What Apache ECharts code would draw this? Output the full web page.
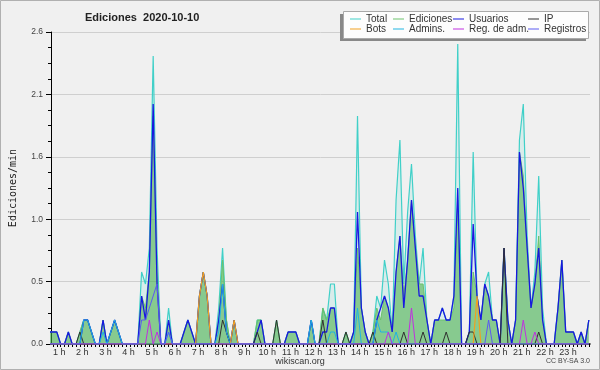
<!DOCTYPE html>
<html><head><meta charset="utf-8">
<script src="https://cdn.jsdelivr.net/npm/echarts@6/dist/echarts.min.js"></script>
<style>html,body{margin:0;padding:0;background:#f0f0f0}#c{width:600px;height:370px}</style>
</head><body><div id="c"></div><script>
// 10-minute slots; first plotted slot index (slot 3 = 00:30)
const firstSlot = 3;
const hours = [1,2,3,4,5,6,7,8,9,10,11,12,13,14,15,16,17,18,19,20,21,22,23];
const hourLabels = hours.map(h => h + ' h');
const yTickValues = [0, 0.52, 1.04, 1.56, 2.08, 2.6];
const yTickLabels = ['0.0','0.5','1.0','1.6','2.1','2.6'];
const names = ['Total','Ediciones','Usuarios','IP','Bots','Admins.','Reg. de adm.','Registros'];

// values per 10-min slot, slots 3..143 (grouped by hour)
const total = [
 .1,.1,.1,
 0,0,.1,0,0,.1,
 .2,.2,.1,0,0,.2,
 0,.1,.2,.1,0,0,
 0,0,0,.6,.5,.8,
 2.4,.8,0,0,.3,0,
 0,0,.1,.2,.1,0,
 .4,.6,.4,0,0,.3,
 .8,.2,0,.2,0,0,
 0,0,0,.2,.2,0,
 0,0,.2,0,0,.1,
 .1,.1,0,0,0,.2,
 0,0,.3,.2,.5,.5,
 0,0,.1,0,.1,1.9,
 .3,.1,0,.1,.4,.3,
 .7,.5,.1,1.2,1.7,.5,
 1.1,1.5,.9,.5,.8,.2,
 0,.2,.2,.3,.2,.2,
 .4,2.5,0,0,.1,1.6,
 .4,.2,.5,.6,.2,.2,
 0,.8,.2,0,.2,1.7,
 2.0,.9,.3,.6,1.4,.3,
 0,0,0,.3,.7,.1,
 .1,.1,0,.1,0,.2];
const ediciones = [
 .1,.1,.1,
 0,0,.1,0,0,.1,
 .2,.2,.1,0,0,.2,
 0,.1,.2,.1,0,0,
 0,0,0,.4,.3,.6,
 1.9,.6,0,0,.2,0,
 0,0,.1,.2,.1,0,
 .4,.6,.4,0,0,.2,
 .7,.2,0,.2,0,0,
 0,0,0,.2,.2,0,
 0,0,.2,0,0,.1,
 .1,.1,0,0,0,.2,
 0,0,.3,.2,.3,.3,
 0,0,.1,0,.1,.8,
 .3,.1,0,.1,.3,.2,
 .4,.3,.1,.6,.9,.4,
 .7,1.2,.8,.5,.5,.2,
 0,.2,.2,.2,.2,.2,
 .3,1.2,0,0,.1,.6,
 .4,.2,.5,.4,.2,.2,
 0,.8,.2,0,.2,1.6,
 1.4,.8,.3,.5,.9,.2,
 0,0,0,.3,.7,.1,
 .1,.1,0,.1,0,.2];
const usuarios = [
 .1,.1,.1,
 0,0,.1,0,0,0,
 .2,.2,.1,0,0,.2,
 0,.1,.2,.1,0,0,
 0,0,0,.4,.2,.6,
 2.0,.5,0,0,.2,0,
 0,0,.1,.2,.1,0,
 .4,.6,.4,0,0,.2,
 .5,.1,0,.2,0,0,
 0,0,0,.1,.2,0,
 0,0,0,0,0,.1,
 .1,.1,0,0,0,.2,
 0,0,.1,.1,.3,.3,
 0,0,0,0,.1,1.1,
 .3,.1,0,0,.2,.3,
 .4,.3,.1,.6,.9,.3,
 .7,1.2,.8,.4,.4,.2,
 0,.2,.2,.3,.2,.2,
 .4,1.3,0,0,.1,1.0,
 .4,.2,.5,.4,.2,.2,
 0,.8,.2,0,.2,1.6,
 1.3,.8,.3,.5,.8,.2,
 0,0,0,.3,.7,.1,
 .1,.1,0,.1,0,.2];
const ip = [
 0,0,0,
 0,0,0,0,0,.1,
 0,0,0,0,0,0,
 0,0,0,0,0,0,
 0,0,0,0,0,0,
 0,0,0,0,0,0,
 0,0,0,0,0,0,
 0,0,0,0,0,0,
 .2,.1,0,0,0,0,
 0,0,0,.1,0,0,
 0,0,.2,0,0,0,
 0,0,0,0,0,0,
 0,0,.2,0,0,0,
 0,0,.1,0,0,0,
 0,0,0,.1,0,0,
 0,0,0,0,0,.1,
 0,0,0,0,.1,0,
 0,0,0,0,.1,0,
 0,0,0,0,.1,.1,
 0,0,0,0,0,0,
 0,.8,0,0,0,0,
 0,0,0,0,.1,0,
 0,0,0,0,0,0,
 0,0,0,0,0,0];
const bots = [
 0,0,0,
 0,0,0,0,0,0,
 0,0,0,0,0,0,
 0,0,0,0,0,0,
 0,0,0,0,0,0,
 0,0,0,0,0,0,
 0,0,0,0,0,0,
 .4,.6,.4,0,0,0,
 0,0,0,.2,0,0,
 0,0,0,0,0,0,
 0,0,0,0,0,0,
 0,0,0,0,0,0,
 0,0,0,0,0,0,
 0,0,0,0,0,0,
 0,0,0,0,0,0,
 0,0,0,0,0,0,
 0,0,0,0,0,0,
 0,0,0,0,0,0,
 0,0,0,0,0,0,
 .4,0,0,0,0,0,
 0,0,0,0,0,0,
 0,0,0,0,0,0,
 0,0,0,0,0,0,
 0,0,0,0,0,0];
const admins = [
 0,0,0,
 0,0,0,0,0,0,
 .2,.2,.1,0,0,.1,
 0,.1,.2,.1,0,0,
 0,0,0,0,0,0,
 0,0,0,0,.1,0,
 0,0,0,0,0,0,
 0,0,0,0,0,.1,
 .5,.1,0,0,0,0,
 0,0,0,0,0,0,
 0,0,0,0,0,0,
 0,0,0,0,0,.2,
 0,0,0,0,.1,.1,
 0,0,0,0,0,.3,
 0,0,0,0,.2,.1,
 .1,.1,0,.1,0,0,
 0,0,0,0,0,0,
 0,0,0,0,0,0,
 0,0,0,0,0,0,
 0,0,0,0,0,0,
 0,0,0,0,0,0,
 0,0,0,0,0,0,
 0,0,0,0,0,0,
 0,0,0,0,0,0];
const regAdm = [
 0,0,0,
 0,0,0,0,0,0,
 0,0,0,0,0,0,
 0,0,0,0,0,0,
 0,0,0,0,0,.2,
 0,.1,0,0,0,0,
 0,0,0,0,0,0,
 0,0,0,0,0,0,
 0,0,0,0,0,0,
 0,0,0,0,0,0,
 0,0,0,0,0,0,
 0,0,0,0,0,0,
 0,0,0,0,0,0,
 0,0,0,0,0,0,
 0,0,0,0,0,0,
 0,.1,0,0,0,0,
 0,.3,0,0,0,0,
 0,0,0,0,0,0,
 0,0,0,0,0,0,
 0,0,0,0,0,0,
 0,0,0,0,0,0,
 .2,0,0,.1,0,0,
 0,0,0,0,0,0,
 0,0,0,0,0,0];
const registros = [
 0,0,0,
 0,0,0,0,0,0,
 0,0,0,0,0,0,
 0,0,0,0,0,0,
 0,0,0,.2,.2,.3,
 .4,.5,0,0,.1,0,
 0,0,0,0,0,0,
 0,0,0,0,0,0,
 0,0,0,0,0,0,
 0,0,0,0,0,0,
 0,0,0,0,0,0,
 0,0,0,0,0,0,
 0,0,0,0,0,0,
 0,0,0,0,0,0,
 0,0,0,0,0,0,
 0,0,0,0,0,0,
 0,0,0,0,0,0,
 0,0,0,0,0,0,
 0,0,0,0,0,0,
 0,0,0,.2,0,0,
 0,0,0,0,0,0,
 0,0,0,0,0,0,
 0,0,0,0,0,0,
 0,0,0,0,0,0];

const colors = ['#40d0c8','#6cc26c','#1818e0','#303030','#f0a020','#20b4e0','#c030e0','#5a5af0'];
const allData = [total, ediciones, usuarios, ip, bots, admins, regAdm, registros];
const areas = ['rgba(64,208,200,0.13)','rgba(60,170,60,0.52)',null,null,null,null,null,null];
const widths = [1.2,1,1.3,1,1.2,1,1,1];

const series = names.map((n, s) => ({
  name: n, type: 'line', showSymbol: false, symbol: 'none',
  data: allData[s].map((v, k) => [firstSlot + k, v]),
  lineStyle: {color: colors[s], width: widths[s]},
  itemStyle: {color: colors[s]},
  areaStyle: areas[s] ? {color: areas[s], opacity: 1} : undefined,
  z: 2 + s, animation: false
}));

const legendFont = {fontFamily: 'Liberation Sans', fontSize: 10, color: '#333', lineHeight: 10};
const legendCols = [[names[0], names[4]], [names[1], names[5]], [names[2], names[6]], [names[3], names[7]]];
const legendLeft = [350, 393, 453, 528];
const legends = legendCols.map((col, c) => ({
  data: col, left: legendLeft[c], top: 14, orient: 'vertical', icon: 'rect',
  itemWidth: 11, itemHeight: 1, itemGap: 0, padding: 0, textStyle: legendFont,
  selectedMode: false, z: 120
}));

const chart = echarts.init(document.getElementById('c'), null, {renderer: 'canvas'});
chart.setOption({
  backgroundColor: '#f0f0f0',
  animation: false,
  title: {text: 'Ediciones  2020-10-10', left: 85, top: 12, padding: 0,
    textStyle: {fontFamily: 'Liberation Sans', fontWeight: 'bold', fontSize: 11, color: '#222'}},
  legend: legends,
  grid: {left: 45, right: 10, top: 32, bottom: 26},
  xAxis: {
    type: 'value', min: 3.5, max: 143.3,
    axisLine: {lineStyle: {color: '#000', width: 1.5}},
    axisTick: {show: true, length: 3, lineStyle: {color: '#000'},
      customValues: Array.from({length: 140}, (_, k) => 4 + k)},
    axisLabel: {customValues: hours.map(h => h * 6),
      formatter: v => hourLabels[hours.indexOf(Math.round(v / 6))],
      fontFamily: 'Liberation Sans', fontSize: 9, color: '#333', margin: 4, padding: [0, 3, 0, 0]},
    splitLine: {show: false}
  },
  yAxis: {
    type: 'value', min: 0, max: 2.6, interval: 0.52,
    name: 'Ediciones/min', nameLocation: 'middle', nameGap: 33,
    nameTextStyle: {fontFamily: 'DejaVu Sans Mono', fontSize: 10, color: '#222'},
    axisLine: {show: true, lineStyle: {color: '#000', width: 1}},
    axisTick: {show: true, length: 5, lineStyle: {color: '#000'}},
    minorTick: {show: true, splitNumber: 4, length: 3, lineStyle: {color: '#000'}},
    axisLabel: {formatter: v => yTickLabels[yTickValues.findIndex(t => Math.abs(t - v) < 1e-6)],
      fontFamily: 'Liberation Sans', fontSize: 8.5, color: '#444', margin: 8},
    splitLine: {show: true, lineStyle: {color: '#cfcfcf', width: 1}}
  },
  graphic: [
    {type: 'rect', shape: {x: 0.5, y: 0.5, width: 599, height: 369}, style: {fill: 'none', stroke: '#b0b0b0', lineWidth: 1}, z: 100},
    {type: 'rect', shape: {x: 340, y: 14, width: 246, height: 27}, style: {fill: '#888'}, z: 90},
    {type: 'rect', shape: {x: 343.5, y: 11.5, width: 245, height: 27}, style: {fill: '#fdfdfd', stroke: '#aaa', lineWidth: 1}, z: 91},
    {type: 'text', left: 'center', top: 357, style: {text: 'wikiscan.org', fontFamily: 'Liberation Sans', fontSize: 9, fill: '#333'}, z: 100},
    {type: 'text', right: 10, top: 358, style: {text: 'CC BY-SA 3.0', fontFamily: 'Liberation Sans', fontSize: 7, fill: '#444'}, z: 100}
  ],
  series: series
});
</script></body></html>
